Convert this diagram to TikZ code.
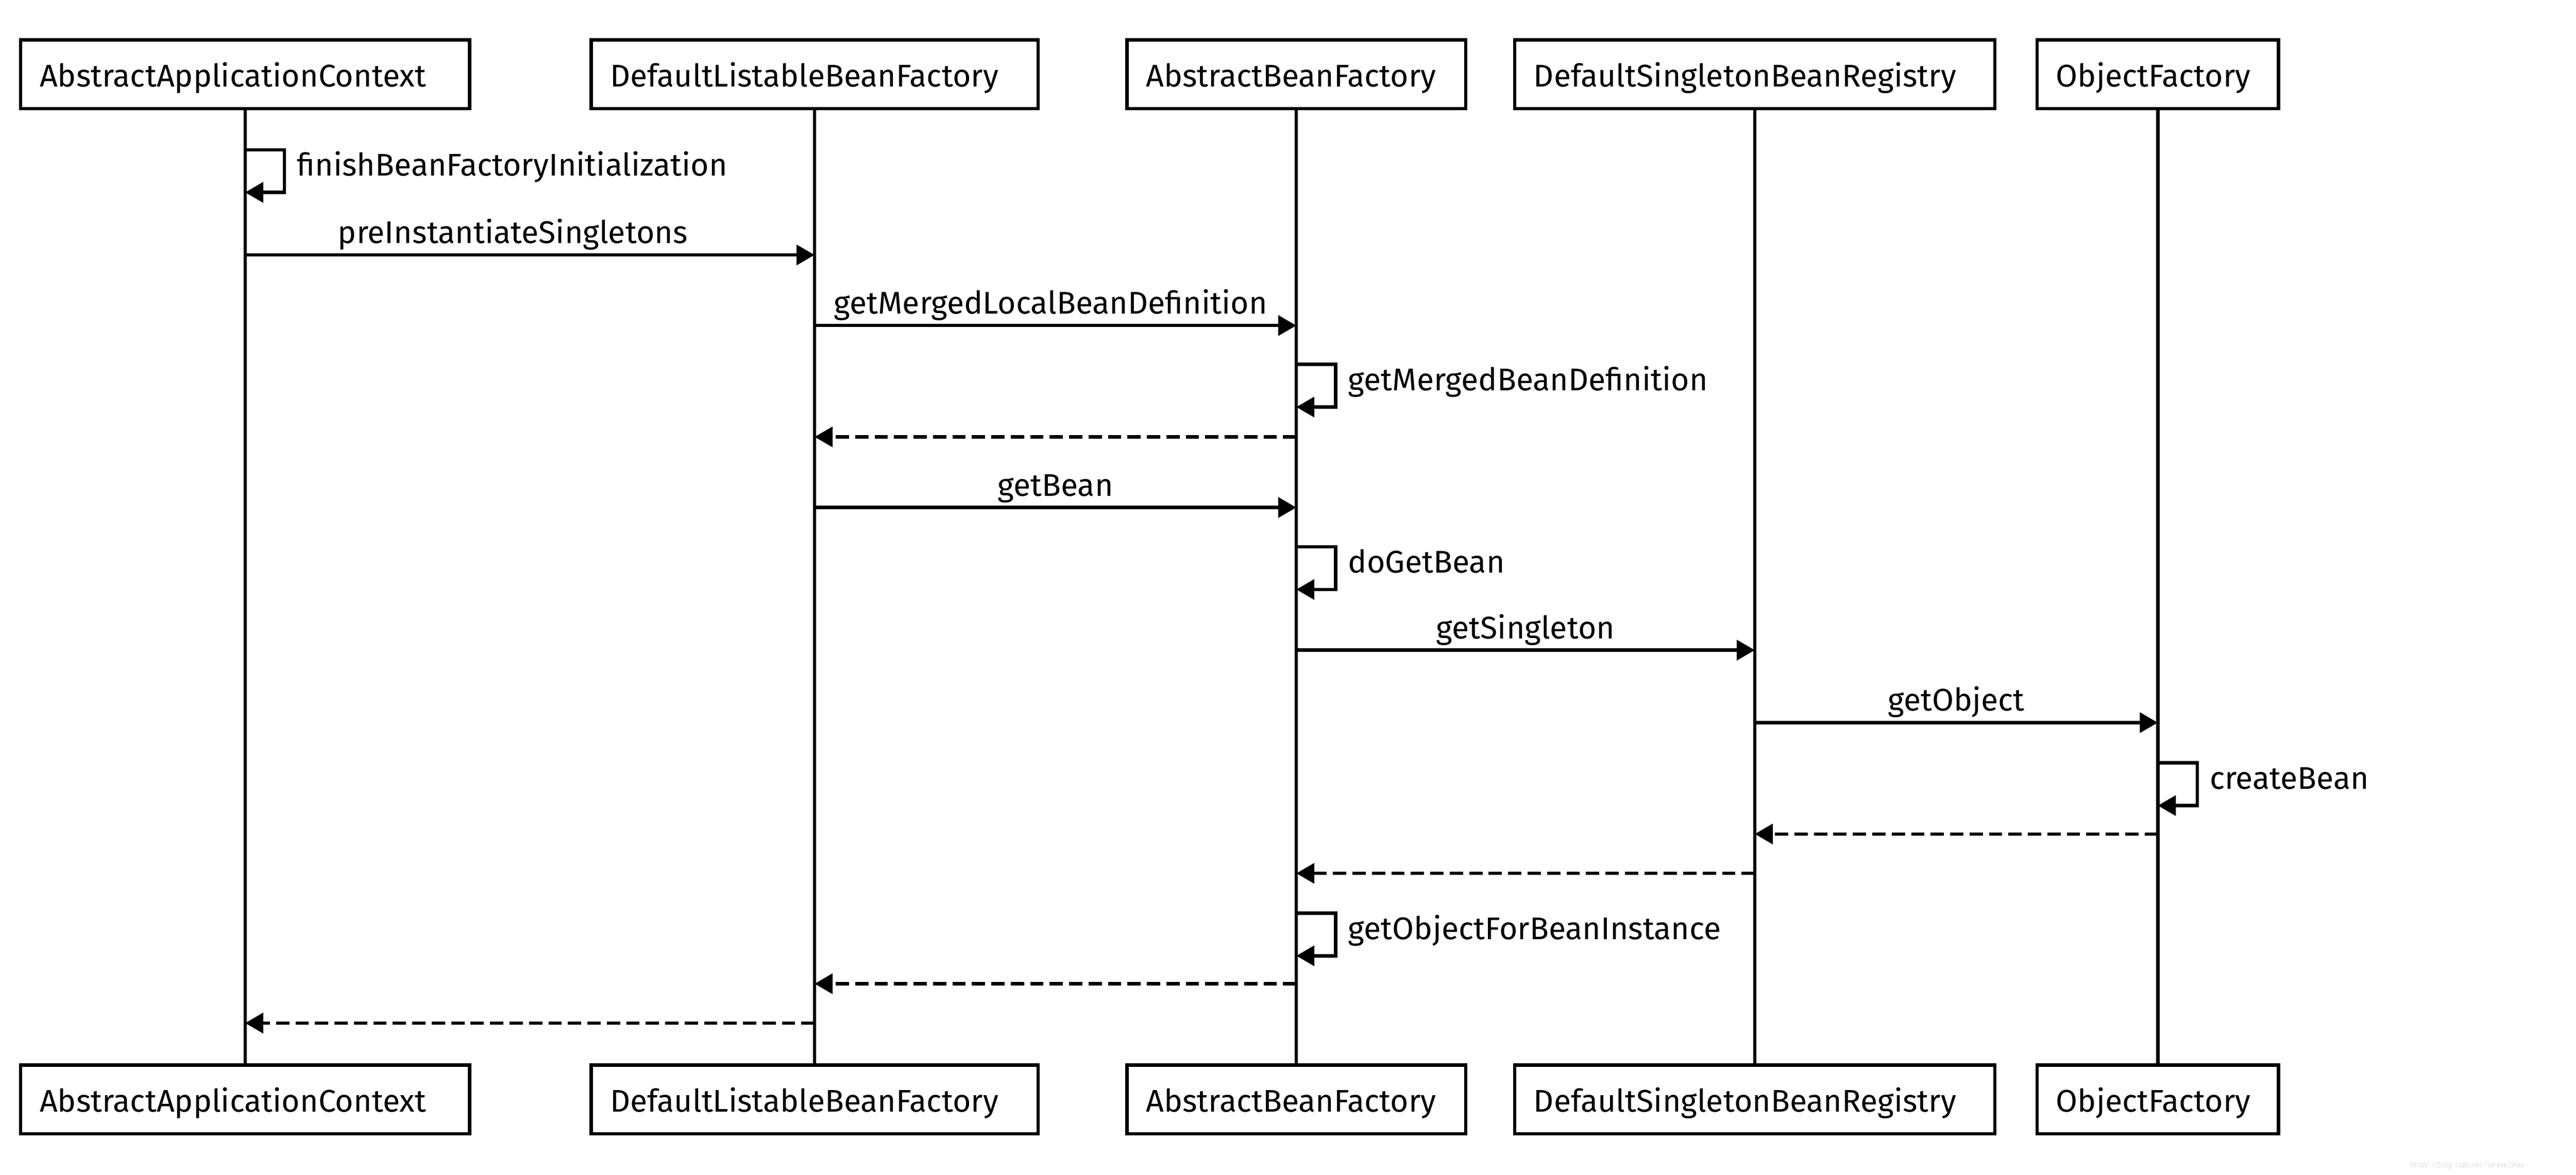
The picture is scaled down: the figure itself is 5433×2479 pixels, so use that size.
\documentclass[tikz,border=0pt]{standalone}
\usepackage{fontspec}
\usepackage{graphicx}
\setmainfont{Fira Sans}
\newfontfamily\wmfont{Liberation Mono}
\usetikzlibrary{arrows.meta}
\definecolor{wmgray}{RGB}{218,218,210}

\newcommand\selfcall[4]{%
  \draw[msg] (#1 |- 0,#2) -- ++(83,0) -- ++(0,90) -- ++(-83,0);
  \path (#1 |- 0,#2) ++(106,55) node[slbl] (#3) {#4};}

\begin{document}
\begin{tikzpicture}[x=0.01cm,y=-0.01cm,line width=2pt,
  font=\fontsize{18.8}{22}\selectfont,
  obj/.style={draw,align=left,inner xsep=0.4cm,inner ysep=0pt,minimum height=1.45cm,
    text height=20.5pt,text depth=5.4pt},
  msg/.style={-{Triangle[length=0.38cm,width=0.42cm]}},
  ret/.style={msg,dash pattern=on 0.28cm off 0.13cm},
  lbl/.style={anchor=base,inner sep=0pt,yshift=0.245cm},
  slbl/.style={anchor=base west,inner sep=0pt}]
\useasboundingbox (0,0) rectangle (5433,2479);

\node[obj,text width=8.66cm] (aac) at (517,157) {AbstractApplicationContext};
\node[obj,text width=8.62cm] (dlbf) at (1718,157) {DefaultListableBeanFactory};
\node[obj,text width=6.34cm] (abf) at (2734,157) {AbstractBeanFactory};
\node[obj,text width=9.32cm] (dsbr) at (3701,157) {DefaultSingletonBeanRegistry};
\node[obj,text width=4.29cm] (of) at (4551,157) {ObjectFactory};

\node[obj,text width=8.66cm] (aac2) at (517,2320) {AbstractApplicationContext};
\node[obj,text width=8.62cm] (dlbf2) at (1718,2320) {DefaultListableBeanFactory};
\node[obj,text width=6.34cm] (abf2) at (2734,2320) {AbstractBeanFactory};
\node[obj,text width=9.32cm] (dsbr2) at (3701,2320) {DefaultSingletonBeanRegistry};
\node[obj,text width=4.29cm] (of2) at (4551,2320) {ObjectFactory};

\foreach \n in {aac,dlbf,abf,dsbr,of}
  \draw (\n) -- (\n2);

\selfcall{aac}{316}{s1}{finishBeanFactoryInitialization}
\draw[msg] (aac |- 0,538) -- node[lbl,pos=.47] (m2) {preInstantiateSingletons} (dlbf |- 0,538);
\draw[msg] (dlbf |- 0,687) -- node[lbl,pos=.49] (m3) {getMergedLocalBeanDefinition} (abf |- 0,687);
\selfcall{abf}{769}{s4}{getMergedBeanDefinition}
\draw[ret] (abf |- 0,922) -- (dlbf |- 0,922);
\draw[msg] (dlbf |- 0,1071) -- node[lbl] (m6) {getBean} (abf |- 0,1071);
\selfcall{abf}{1154}{s7}{doGetBean}
\draw[msg] (abf |- 0,1372) -- node[lbl] (m8) {getSingleton} (dsbr |- 0,1372);
\draw[msg] (dsbr |- 0,1525) -- node[lbl] (m9) {getObject} (of |- 0,1525);
\selfcall{of}{1610}{s10}{createBean}
\draw[ret] (of |- 0,1760) -- (dsbr |- 0,1760);
\draw[ret] (dsbr |- 0,1843) -- (abf |- 0,1843);
\selfcall{abf}{1927}{s13}{getObjectForBeanInstance}
\draw[ret] (abf |- 0,2076) -- (dlbf |- 0,2076);
\draw[ret] (dlbf |- 0,2159) -- (aac |- 0,2159);

\node[anchor=west,inner sep=0pt,text=wmgray] (wm) at (5080,2459)
  {\wmfont\fontsize{4.8}{5}\selectfont\scalebox{0.72}[1]{https://blog.csdn.net/laravelshao}};
\end{tikzpicture}
\end{document}
